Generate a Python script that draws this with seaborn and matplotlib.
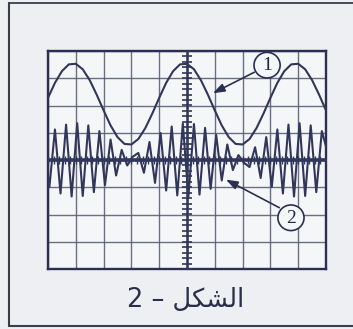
import numpy as np
import pandas as pd
import matplotlib
matplotlib.use("Agg")
import matplotlib.pyplot as plt
from matplotlib.patches import Circle
from matplotlib.lines import Line2D
import seaborn as sns

# ---- data (screen divisions) ----
x1 = [-5.0 + 0.25 * i for i in range(41)]
y1 = [2.28, 2.83, 3.26, 3.51, 3.53, 3.33, 2.93, 2.40, 1.82, 1.27, 0.84, 0.59, 0.57, 0.77, 1.17, 1.70,
      2.28, 2.83, 3.26, 3.51, 3.53, 3.33, 2.93, 2.40, 1.82, 1.27, 0.84, 0.59, 0.57, 0.77, 1.17, 1.70,
      2.28, 2.83, 3.26, 3.51, 3.53, 3.33, 2.93, 2.40, 1.82]

x2 = [-5.0] + [-4.95 + 0.2 * i for i in range(50)] + [5.0]
y2 = [-0.6,
      -0.99, 1.12, -1.23, 1.30, -1.34, 1.35, -1.32, 1.27, -1.18, 1.06,
      -0.92, 0.75, -0.57, 0.37, -0.20, 0.12, 0.26, -0.47, 0.66, -0.84,
      0.99, -1.12, 1.23, -1.30, 1.34, -1.35, 1.32, -1.27, 1.18, -1.06,
      0.92, -0.75, 0.57, -0.37, 0.18, -0.10, -0.26, 0.47, -0.66, 0.84,
      -0.99, 1.12, -1.23, 1.30, -1.34, 1.35, -1.32, 1.27, -1.18, 1.06,
      0.5]

caption = "2 \u2013 \uFEDE\uFEDC\uFEB8\uFEDF\uFE8D"
label1 = "1"
label2 = "2"

# ---- style ----
sns.set_style("white")
plt.rcParams["font.family"] = ["DejaVu Sans"]

W, H = 353, 329
fig = plt.figure(figsize=(W / 100, H / 100), dpi=100, facecolor="#edeff3")
ax = fig.add_axes([48 / W, 1 - 269 / H, 278 / W, 218 / H])
ax.set_facecolor("#f5f6f8")

trace = "#31375a"
gridc = "#50596f"

ax.set_xlim(-5, 5)
ax.set_ylim(-4, 4)
ax.set_xticks(np.arange(-5, 6, 1))
ax.set_yticks(np.arange(-4, 5, 1))
ax.set_xticklabels([])
ax.set_yticklabels([])
ax.tick_params(length=0)
ax.grid(True, color=gridc, lw=1.0, alpha=0.85)
for s in ax.spines.values():
    s.set_color("#2c3050")
    s.set_linewidth(1.7)

# center axes with graduations
ax.axhline(0, color=trace, lw=2.6, zorder=3)
ax.axvline(0, color=trace, lw=1.8, zorder=3)
gy = np.arange(-4, 4.01, 0.2)
ax.plot(np.zeros_like(gy), gy, ls="none", marker="_", ms=7, mew=1.2, color=trace, zorder=3)
gx = np.arange(-5, 5.01, 0.2)
ax.plot(gx, np.zeros_like(gx), ls="none", marker="|", ms=6, mew=1.0, color=trace, zorder=3)

df1 = pd.DataFrame({"x": x1, "y": y1})
df2 = pd.DataFrame({"x": x2, "y": y2})
sns.lineplot(data=df1, x="x", y="y", ax=ax, sort=False, estimator=None, color=trace, lw=1.5, zorder=4)
sns.lineplot(data=df2, x="x", y="y", ax=ax, sort=False, estimator=None, color=trace, lw=1.5, zorder=4)
ax.set_xlabel("")
ax.set_ylabel("")

# labels with circles and arrows
def tag(txt, cx, cy, tx, ty, sx, sy):
    circ = Circle((cx, cy), 0.47, transform=ax.transData, facecolor="#f5f6f8",
                  edgecolor="#2c3050", lw=1.2, zorder=6, clip_on=False)
    ax.add_patch(circ)
    ax.text(cx, cy - 0.02, txt, ha="center", va="center", fontsize=14,
            family="Liberation Serif", color="#23273f", zorder=7)
    ax.annotate("", xy=(tx, ty), xytext=(sx, sy),
                arrowprops=dict(arrowstyle="-|>,head_length=0.7,head_width=0.25",
                                color="#2c3050", lw=1.2, shrinkA=0, shrinkB=0), zorder=6)

tag(label1, 2.88, 3.48, 0.93, 2.45, 2.42, 3.22)
tag(label2, 3.74, -2.12, 1.40, -0.72, 3.32, -1.75)

fig.text(186 / W, 1 - 300 / H, caption, ha="center", va="center", fontsize=18.5,
         color="#2a2e48", family=["DejaVu Sans"])

# outer frame
fig.add_artist(Line2D([9 / W, 9 / W], [1 - 3 / H, 1 - 326 / H], color="#3a3d4f", lw=1.5, transform=fig.transFigure))
fig.add_artist(Line2D([9 / W, 1], [1 - 3 / H, 1 - 3 / H], color="#3a3d4f", lw=1.3, transform=fig.transFigure))
fig.add_artist(Line2D([9 / W, 1], [1 - 326 / H, 1 - 326 / H], color="#3a3d4f", lw=1.5, transform=fig.transFigure))

fig.savefig("out.png", dpi=100, facecolor=fig.get_facecolor())
